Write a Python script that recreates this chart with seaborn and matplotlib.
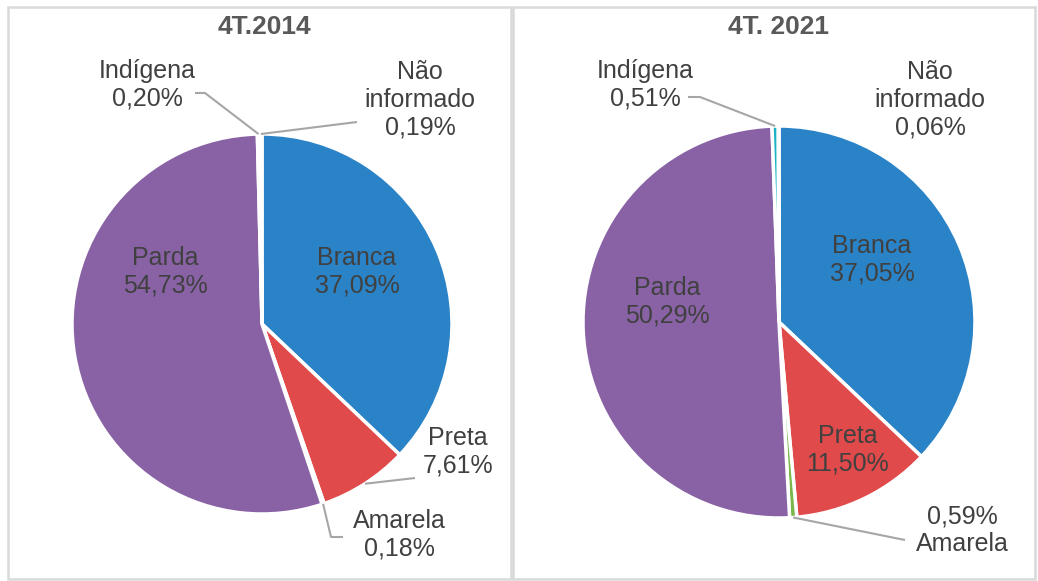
import numpy as np
import matplotlib
matplotlib.use("Agg")
import matplotlib.pyplot as plt
from matplotlib.patches import Rectangle
import seaborn as sns

sns.set_theme(style="white")
plt.rcParams['font.family'] = ['Liberation Sans', 'DejaVu Sans']

# ---- data ----
categorias = ["Branca", "Preta", "Amarela", "Parda", "Indígena", "Não informado"]
rotulos = ["Branca", "Preta", "Amarela", "Parda", "Indígena", "Não\ninformado"]
valores_2014 = [37.09, 7.61, 0.18, 54.73, 0.20, 0.19]
valores_2021 = [37.05, 11.50, 0.59, 50.29, 0.51, 0.06]
titulos = ["4T.2014", "4T. 2021"]
cores = ["#2A83C6", "#E04A4A", "#7AB648", "#8962A5", "#1CB1C7", "#F59D3D"]

W, H = 1038, 581
TXT = "#404040"

fig = plt.figure(figsize=(W / 100, H / 100), dpi=100)
ax = fig.add_axes([0, 0, 1, 1])


def py(y):
    # pixel y (from top) -> data y
    return H - y


def fmt(v):
    return f"{v:.2f}".replace(".", ",") + "%"


# layout for each panel: pie centre/radius, label positions (pixel coords),
# and leader-line elbows (None = no leader line)
paineis = [
    dict(valores=valores_2014, titulo=titulos[0], cx=262, cy=324, r=190,
         tx=264, box=(8, 7, 503, 572),
         labels={
             "Branca": ((357, 272), None, False),
             "Preta": ((458, 452), [(415, 478)], False),
             "Amarela": ((399, 535), [(331, 537), (343, 537)], False),
             "Parda": ((165, 272), None, False),
             "Indígena": ((147, 85), [(205, 93), (195, 93)], False),
             "Não informado": ((420, 100), [(357, 122)], False),
         }),
    dict(valores=valores_2021, titulo=titulos[1], cx=779, cy=322, r=196,
         tx=779, box=(513, 7, 522, 572),
         labels={
             "Branca": ((872, 260), None, False),
             "Preta": ((848, 450), None, False),
             "Amarela": ((962, 530), [(905, 540)], True),
             "Parda": ((667, 302), None, False),
             "Indígena": ((645, 85), [(700, 97), (688, 97)], False),
             "Não informado": ((930, 100), None, False),
         }),
]

for p in paineis:
    vals = np.array(p["valores"])
    ax.pie(vals, colors=cores, startangle=90, counterclock=False,
           center=(p["cx"], py(p["cy"])), radius=p["r"],
           wedgeprops=dict(edgecolor="white", linewidth=2.5))

    cum = np.cumsum(vals) - vals / 2
    for cat, rot, v, c in zip(categorias, rotulos, vals, cum):
        (lx, ly), elbows, invert = p["labels"][cat]
        texto = f"{fmt(v)}\n{rot}" if invert else f"{rot}\n{fmt(v)}"
        ax.text(lx, py(ly), texto, ha="center", va="center", fontsize=18,
                color=TXT, linespacing=1.2)
        if elbows:
            theta = np.deg2rad(90 - 360 * c / vals.sum())
            x0 = p["cx"] + p["r"] * np.cos(theta)
            y0 = py(p["cy"]) + p["r"] * np.sin(theta)
            xs = [x0] + [e[0] for e in elbows]
            ys = [y0] + [py(e[1]) for e in elbows]
            ax.plot(xs, ys, color="#A6A6A6", lw=1.5, solid_capstyle="butt")

    ax.text(p["tx"], py(27), p["titulo"], ha="center", va="center",
            fontsize=19, fontweight="bold", color="#595959")

    bx, by, bw, bh = p["box"]
    ax.add_patch(Rectangle((bx, py(by + bh)), bw, bh, fill=False,
                           edgecolor="#D9D9D9", lw=1.8))

ax.set_xlim(0, W)
ax.set_ylim(0, H)
ax.set_aspect("equal")
ax.set_position([0, 0, 1, 1])
ax.axis("off")

fig.savefig("out.png", dpi=100, facecolor="white")
